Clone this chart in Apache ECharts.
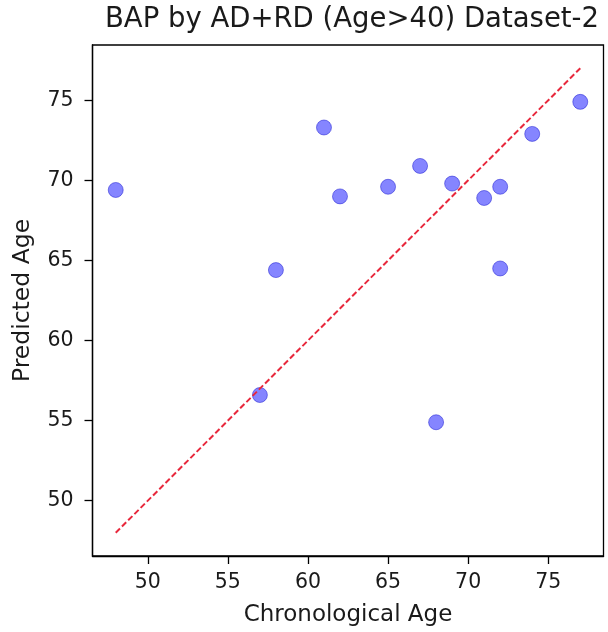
<!DOCTYPE html>
<html>
<head>
<meta charset="utf-8">
<script src="https://cdn.jsdelivr.net/npm/echarts@6/dist/echarts.min.js"></script>
<style>html,body{margin:0;padding:0;background:#fff;}#chart{width:608px;height:632px;}</style>
</head>
<body>
<div id="chart"></div>
<script>
// Data
const chronologicalAge = [48, 61, 62, 58, 65, 67, 69, 71, 72, 74, 77, 72, 57, 68];
const predictedAge = [69.4, 73.3, 69.0, 64.4, 69.6, 70.9, 69.8, 68.9, 69.6, 72.9, 74.9, 64.5, 56.6, 54.9];
const identityLine = [48, 77];
const tickValues = [50, 55, 60, 65, 70, 75];
const axisMin = 46.55;
const axisMax = 78.45;

const font = 'DejaVu Sans';
const textColor = '#1a1a1a';

const chart = echarts.init(document.getElementById('chart'), null, {renderer: 'canvas'});
const option = {
  animation: false,
  backgroundColor: '#fff',
  title: {
    text: 'BAP by AD+RD (Age>40) Dataset-2',
    left: 352,
    textAlign: 'center',
    top: 6,
    padding: 0,
    textStyle: {fontFamily: font, fontSize: 27.5, fontWeight: 'normal', color: textColor}
  },
  grid: {
    left: 92.5, right: 4.5, top: 45, bottom: 74,
    show: true, borderColor: '#000', borderWidth: 1.3, backgroundColor: 'transparent'
  },
  xAxis: {
    type: 'value', min: axisMin, max: axisMax,
    name: 'Chronological Age', nameLocation: 'middle', nameGap: 48,
    nameTextStyle: {fontFamily: font, fontSize: 23, color: textColor},
    axisLine: {show: true, onZero: false, lineStyle: {color: '#000', width: 1.3}},
    axisTick: {show: true, length: 8, lineStyle: {color: '#000', width: 1.3}, customValues: tickValues},
    axisLabel: {fontFamily: font, fontSize: 20.5, color: textColor, margin: 16, customValues: tickValues},
    splitLine: {show: false}
  },
  yAxis: {
    type: 'value', min: axisMin, max: axisMax,
    name: 'Predicted Age', nameLocation: 'middle', nameGap: 58,
    nameTextStyle: {fontFamily: font, fontSize: 23.5, color: textColor},
    axisLine: {show: true, onZero: false, lineStyle: {color: '#000', width: 1.3}},
    axisTick: {show: true, length: 8, lineStyle: {color: '#000', width: 1.3}, customValues: tickValues},
    axisLabel: {fontFamily: font, fontSize: 20.5, color: textColor, margin: 19, customValues: tickValues},
    splitLine: {show: false}
  },
  series: [
    {
      type: 'scatter',
      symbolSize: 15,
      itemStyle: {color: 'rgba(0,0,255,0.6)', borderColor: 'rgba(0,0,200,0.55)', borderWidth: 1},
      data: chronologicalAge.map((x, i) => [x, predictedAge[i]]),
      z: 3
    },
    {
      type: 'line',
      symbol: 'none',
      lineStyle: {color: '#e8283c', width: 2, type: [6, 2.8]},
      data: identityLine.map(v => [v, v]),
      z: 4
    }
  ]
};
chart.setOption(option);
</script>
</body>
</html>
